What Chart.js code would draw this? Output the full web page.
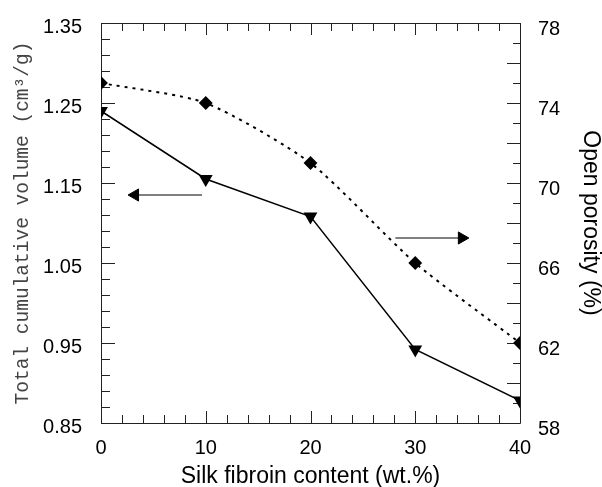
<!DOCTYPE html>
<html>
<head>
<meta charset="utf-8">
<script src="https://cdn.jsdelivr.net/npm/chart.js@4.4.1/dist/chart.umd.min.js"></script>
<style>
  html, body { margin: 0; padding: 0; background: #fff; }
  #wrap { width: 602px; height: 487px; }
</style>
</head>
<body>
<div id="wrap"><canvas id="chart" width="602" height="487"></canvas></div>
<script>
// silk fibroin content (wt.%)
const silkContent = [0, 10, 20, 30, 40];
// total cumulative volume (cm3/g) - left axis
const cumVolume = [1.240, 1.155, 1.108, 0.942, 0.878];
// open porosity (%) - right axis
const openPorosity = [75.0, 74.0, 71.0, 66.0, 62.0];

// labelled ticks
const xLabels = [0, 10, 20, 30, 40];
const leftLabels = [0.85, 0.95, 1.05, 1.15, 1.25, 1.35];
const rightLabels = [58, 62, 66, 70, 74, 78];

// the two arrows that point at the axis of each curve
const arrowLeftX = [3.25, 9.65];
const arrowLeftY = 1.135;
const arrowRightX = [28.1, 34.45];
const arrowRightY = 67.25;

// minor tick steps
const xStep = 2, leftStep = 0.02, rightStep = 1;

function stepTicks(min, max, step) {
    const out = [];
    const n = Math.round((max - min) / step);
    for (let i = 0; i <= n; i++) out.push({ value: +(min + i * step).toFixed(4) });
    return out;
}
const near = (a, b) => Math.abs(a - b) < 1e-6;

// inward ticks on all four sides + the frame
const boxTicks = {
    id: 'boxTicks',
    beforeDatasetsDraw(chart) {
        const { ctx, chartArea: a, scales } = chart;
        ctx.save();
        ctx.strokeStyle = '#222';
        ctx.lineWidth = 1;
        ctx.beginPath();
        ctx.rect(a.left + 0.5, a.top + 0.5, a.right - a.left, a.bottom - a.top);
        ctx.stroke();

        ctx.beginPath();
        scales.x.ticks.forEach(t => {
            const px = Math.round(scales.x.getPixelForValue(t.value)) + 0.5;
            const len = xLabels.includes(t.value) ? 12 : 8;
            ctx.moveTo(px, a.bottom); ctx.lineTo(px, a.bottom - len);
            ctx.moveTo(px, a.top); ctx.lineTo(px, a.top + len);
        });
        scales.y.ticks.forEach(t => {
            const py = Math.round(scales.y.getPixelForValue(t.value)) + 0.5;
            const len = leftLabels.some(l => near(l, t.value)) ? 14 : 9;
            ctx.moveTo(a.left, py); ctx.lineTo(a.left + len, py);
        });
        scales.y2.ticks.forEach(t => {
            const py = Math.round(scales.y2.getPixelForValue(t.value)) + 0.5;
            const len = t.value % 2 === 0 ? 13 : 7;
            ctx.moveTo(a.right, py); ctx.lineTo(a.right - len, py);
        });
        ctx.stroke();
        ctx.restore();
    }
};

const tickFont = { family: 'Liberation Sans', size: 20 };

new Chart(document.getElementById('chart'), {
    type: 'line',
    data: {
        datasets: [
            {
                label: 'Total cumulative volume',
                data: silkContent.map((x, i) => ({ x, y: cumVolume[i] })),
                yAxisID: 'y',
                borderColor: '#000',
                backgroundColor: '#000',
                borderWidth: 1.5,
                pointStyle: 'triangle',
                rotation: 180,
                pointRadius: 6.5,
                tension: 0
            },
            {
                label: 'Open porosity',
                data: silkContent.map((x, i) => ({ x, y: openPorosity[i] })),
                yAxisID: 'y2',
                borderColor: '#000',
                backgroundColor: '#000',
                borderWidth: 2,
                borderDash: [3, 5],
                pointStyle: 'rectRot',
                pointRadius: 5.5,
                tension: 0.22
            },
            {
                label: 'arrow left',
                data: arrowLeftX.map(x => ({ x, y: arrowLeftY })),
                yAxisID: 'y',
                borderColor: '#000',
                backgroundColor: '#000',
                borderWidth: 1,
                pointStyle: ctx => ctx.dataIndex === 0 ? 'triangle' : false,
                rotation: 270,
                pointRadius: ctx => ctx.dataIndex === 0 ? 7 : 0
            },
            {
                label: 'arrow right',
                data: arrowRightX.map(x => ({ x, y: arrowRightY })),
                yAxisID: 'y2',
                borderColor: '#000',
                backgroundColor: '#000',
                borderWidth: 1,
                pointStyle: ctx => ctx.dataIndex === 1 ? 'triangle' : false,
                rotation: 90,
                pointRadius: ctx => ctx.dataIndex === 1 ? 7 : 0
            }
        ]
    },
    options: {
        responsive: false,
        animation: false,
        layout: { padding: { top: 19, left: 0, right: 0, bottom: 0 } },
        plugins: { legend: { display: false }, tooltip: { enabled: false } },
        scales: {
            x: {
                type: 'linear',
                min: 0, max: 40,
                afterBuildTicks: s => { s.ticks = stepTicks(0, 40, xStep); },
                afterFit: s => { s.height = 64; },
                grid: { display: false },
                border: { display: false },
                ticks: {
                    autoSkip: false, maxRotation: 0, padding: 5,
                    color: '#000', font: tickFont,
                    callback: v => xLabels.includes(v) ? String(v) : ''
                },
                title: {
                    display: true,
                    text: 'Silk fibroin content (wt.%)',
                    color: '#000',
                    font: { family: 'Liberation Sans', size: 23, lineHeight: 1 },
                    padding: { top: 0, bottom: -1 }
                }
            },
            y: {
                position: 'left',
                min: 0.85, max: 1.35,
                afterBuildTicks: s => { s.ticks = stepTicks(0.85, 1.35, leftStep); },
                afterFit: s => { s.width = 101; },
                grid: { display: false },
                border: { display: false },
                ticks: {
                    autoSkip: false, padding: 11, labelOffset: 4,
                    color: '#000', font: tickFont,
                    callback: v => {
                        const l = leftLabels.find(k => near(k, v));
                        return l === undefined ? '' : l.toFixed(2);
                    }
                },
                title: {
                    display: true,
                    text: 'Total cumulative volume (cm³/g)',
                    color: '#444',
                    font: { family: 'Liberation Mono', size: 19.5, lineHeight: 1 },
                    padding: { top: 13, bottom: 0 }
                }
            },
            y2: {
                position: 'right',
                min: 58, max: 78,
                afterBuildTicks: s => { s.ticks = stepTicks(58, 78, rightStep); },
                afterFit: s => { s.width = 82; },
                grid: { display: false },
                border: { display: false },
                ticks: {
                    autoSkip: false, padding: 10, labelOffset: 6,
                    color: '#000', font: tickFont,
                    callback: v => rightLabels.includes(v) ? String(v) : ''
                },
                title: {
                    display: true,
                    text: 'Open porosity (%)',
                    color: '#000',
                    font: { family: 'Liberation Sans', size: 23, lineHeight: 1 },
                    padding: { top: 0, bottom: 0 }
                }
            }
        }
    },
    plugins: [boxTicks]
});
</script>
</body>
</html>
